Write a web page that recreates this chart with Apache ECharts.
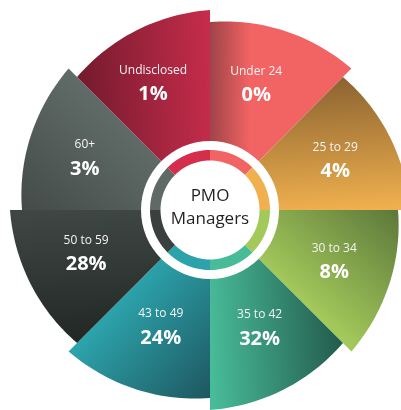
<!DOCTYPE html>
<html>
<head>
<meta charset="utf-8">
<script src="https://cdn.jsdelivr.net/npm/echarts@6/dist/echarts.min.js"></script>
<style>
    html, body { margin: 0; padding: 0; background: #fff; }
    #chart { width: 401px; height: 410px; }
</style>
</head>
<body>
<div id="chart"></div>
<script>
// age groups, clockwise from 12 o'clock
var categories = ['Under 24', '25 to 29', '30 to 34', '35 to 42', '43 to 49', '50 to 59', '60+', 'Undisclosed'];
var shares = [0, 4, 8, 32, 24, 28, 3, 1];
var centerTitle = ['PMO', 'Managers'];

// styling
var baseColors = ['#f26363', '#f0b04e', '#a4c95b', '#48bc98', '#2ca3ab', '#3f4744', '#606b67', '#c52c4b'];
var darkColors = ['#9e4348', '#8b6331', '#5c783a', '#235a4c', '#1e5760', '#222725', '#444b48', '#731a2d'];
var ringColors = ['#f26363', '#f0b04e', '#a4c95b', '#48bc98', '#2ca3ab', '#3a403e', '#5f6a66', '#d42e4c'];
// where each label sits (polar radius / angle)
var labelRadius = [135, 135, 134, 127, 126, 131, 136, 140];
var labelAngle = [20, 68, 112, 157, 203, 251, 293, 336];

var SLICE = 360 / categories.length;

function arc(api, r0, r1, a0, a1, steps) {
    var pts = [];
    for (var k = 0; k <= steps; k++) {
        var t = k / steps;
        pts.push(api.coord([r0 + (r1 - r0) * t, a0 + (a1 - a0) * t]));
    }
    return pts;
}

function renderSlice(params, api) {
    var i = api.value(0);
    var a0 = i * SLICE;
    var pts = [api.coord([0, 0])].concat(arc(api, 188, 200, a0, a0 + SLICE, 30));
    var g0 = api.coord([188, a0]);
    var g1 = i === 0 ? api.coord([192, a0 + 12]) : api.coord([140, a0 + SLICE]);
    var fill = new echarts.graphic.LinearGradient(g0[0], g0[1], g1[0], g1[1], [
        { offset: 0, color: darkColors[i] },
        { offset: 1, color: baseColors[i] }
    ], true);
    var lp = api.coord([labelRadius[i], labelAngle[i]]);
    return {
        type: 'group',
        children: [
            { type: 'polygon', shape: { points: pts }, style: { fill: fill } },
            {
                type: 'text', x: lp[0], y: lp[1] - 12,
                style: { text: categories[i], fill: '#f4f4f4', fontSize: 12, fontFamily: 'Open Sans', align: 'center', verticalAlign: 'middle' }
            },
            {
                type: 'text', x: lp[0], y: lp[1] + 12,
                style: { text: shares[i] + '%', fill: '#fff', fontSize: 20, fontWeight: 'bold', fontFamily: 'Open Sans', align: 'center', verticalAlign: 'middle' }
            }
        ]
    };
}

function renderCenter(params, api) {
    var c = api.coord([0, 0]);
    return {
        type: 'group',
        children: [
            { type: 'circle', shape: { cx: c[0], cy: c[1], r: 69 }, style: { fill: '#fff' } },
            {
                type: 'text', x: c[0], y: c[1] - 14,
                style: { text: centerTitle[0], fill: '#231f20', fontSize: 17, fontFamily: 'Open Sans', align: 'center', verticalAlign: 'middle' }
            },
            {
                type: 'text', x: c[0], y: c[1] + 9,
                style: { text: centerTitle[1], fill: '#231f20', fontSize: 17, fontFamily: 'Open Sans', align: 'center', verticalAlign: 'middle' }
            }
        ]
    };
}

function renderRing(params, api) {
    var i = api.value(0);
    var a0 = i * SLICE;
    var outer = arc(api, 60, 60, a0, a0 + SLICE, 16);
    var inner = arc(api, 49.5, 49.5, a0 + SLICE, a0, 16);
    return { type: 'polygon', shape: { points: outer.concat(inner) }, style: { fill: ringColors[i] } };
}

var chart = echarts.init(document.getElementById('chart'));
var items = shares.map(function (v, i) { return [i, v]; });

chart.setOption({
    animation: false,
    backgroundColor: '#fff',
    polar: { center: [210, 210], radius: 200 },
    angleAxis: { type: 'value', min: 0, max: 360, startAngle: 90, clockwise: true, show: false, splitLine: { show: false } },
    radiusAxis: { type: 'value', min: 0, max: 200, show: false, splitLine: { show: false } },
    series: [
        { type: 'custom', coordinateSystem: 'polar', silent: true, z: 1, renderItem: renderSlice, data: items },
        { type: 'custom', coordinateSystem: 'polar', silent: true, z: 2, renderItem: renderCenter, data: [[0, 0]] },
        { type: 'custom', coordinateSystem: 'polar', silent: true, z: 3, renderItem: renderRing, data: items }
    ]
});
</script>
</body>
</html>
